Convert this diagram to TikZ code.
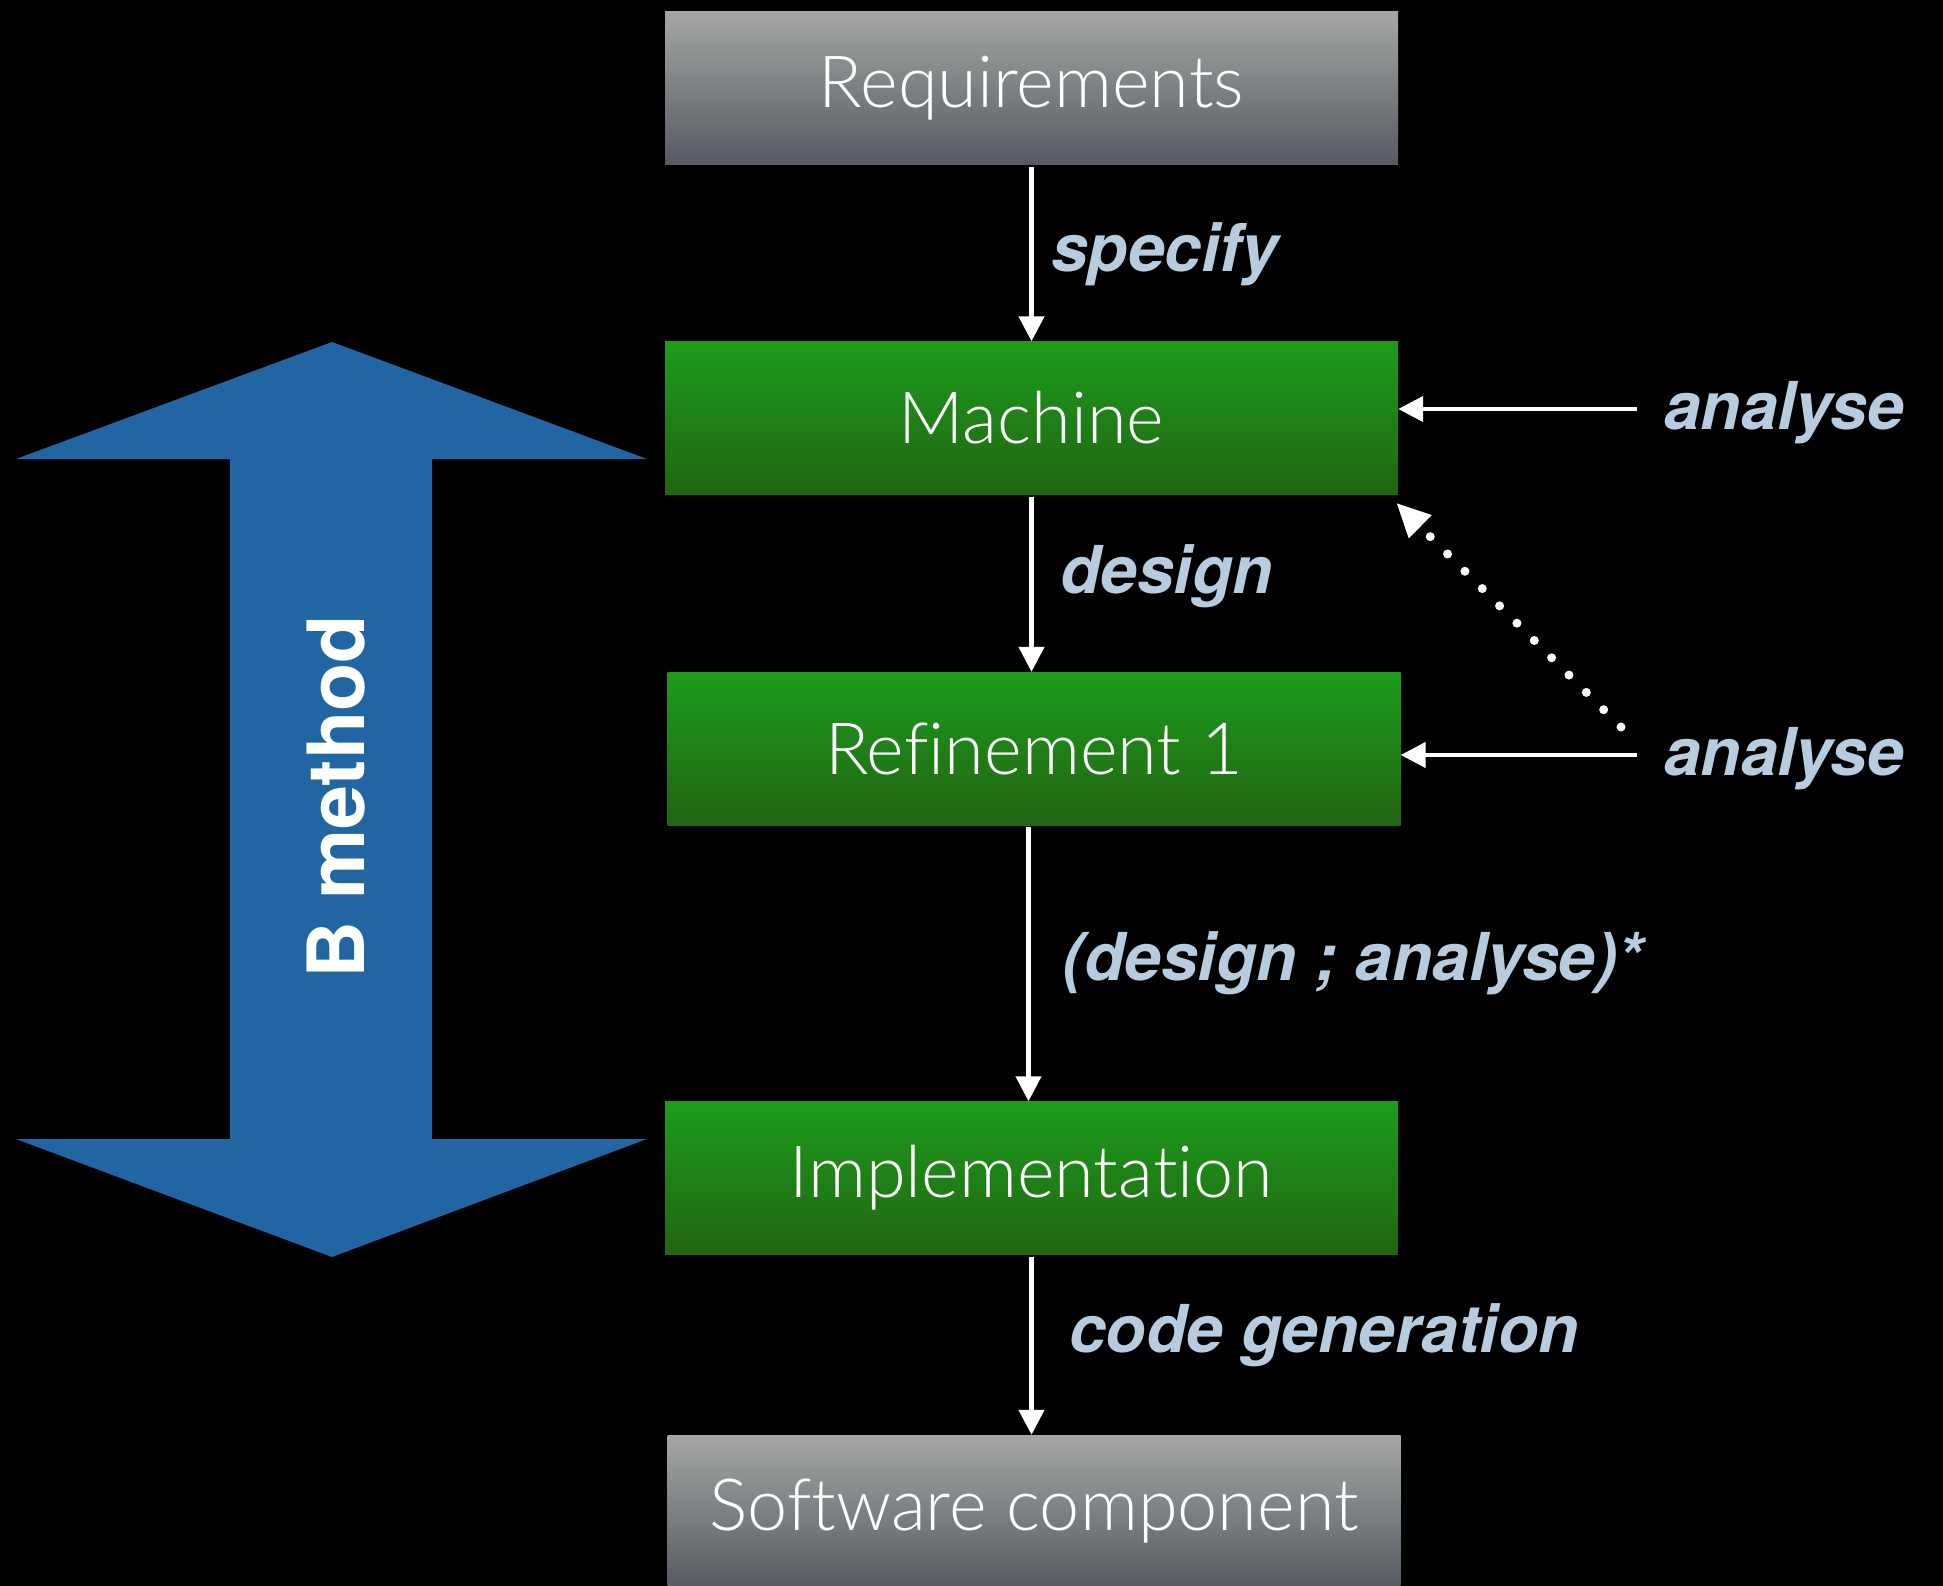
\documentclass[tikz,border=0pt]{standalone}
\usepackage{fontspec}
\setmainfont{TeX Gyre Heros}
\newfontfamily\boxfont{Lato}[UprightFont={* Light}, Ligatures=NoCommon]
\usetikzlibrary{arrows.meta,calc}

\definecolor{greytop}{RGB}{164,167,165}
\definecolor{greybot}{RGB}{86,90,97}
\definecolor{greentop}{RGB}{28,156,28}
\definecolor{greenbot}{RGB}{34,100,18}
\definecolor{bblue}{RGB}{33,101,162}
\definecolor{lbl}{RGB}{184,204,224}

\begin{document}
\begin{tikzpicture}[x=1pt,y=-1pt,
  box/.style={rectangle, inner sep=0pt, minimum width=733pt, minimum height=153pt,
    text=white, font=\boxfont\fontsize{72}{84}\selectfont},
  greybox/.style={box, top color=greytop, bottom color=greybot},
  greenbox/.style={box, top color=greentop, bottom color=greenbot},
  flow/.style={draw=white, line width=4.5pt, shorten <=2pt,
    -{Triangle[width=25pt,length=25pt]}},
  dotline/.style={draw=white, line width=9pt, line cap=round,
    dash pattern=on 0pt off 24.5pt, -{Triangle[width=30pt,length=34pt]}},
  lbltext/.style={text=lbl, inner sep=0pt,
    font=\fontsize{66}{78}\selectfont\bfseries\itshape}]

\useasboundingbox (0,0) rectangle (1943,1586);
\fill[black] (0,0) rectangle (1943,1586);
\clip (0,0) rectangle (1943,1586);

% B method double arrow
\fill[bblue] (332,342) -- (647,459) -- (432,459) -- (432,1139) -- (647,1139)
  -- (332,1257) -- (16,1139) -- (230,1139) -- (230,459) -- (16,459) -- cycle;
\node[rotate=90, text=white, inner sep=0pt,
  font=\fontsize{79}{90}\selectfont\bfseries] (bm) at (336,797) {B method};

% development stages
\node[greybox]  (req)  at (1031.5,88)    {\raisebox{-6pt}{Requirements}};
\node[greenbox] (mach) at (1031.5,418)   {\raisebox{-4pt}{Machine}};
\node[greenbox] (ref)  at (1034,748.5)   {\raisebox{-5pt}{Refinement 1}};
\node[greenbox] (impl) at (1031.5,1178)  {\raisebox{-5pt}{Implementation}};
\node[greybox]  (soft) at (1034,1511.5)  {\raisebox{-5pt}{Software component}};

% vertical steps
\draw[flow] (req.south) -- (mach.north);
\draw[flow] (mach.south) -- (ref.north -| mach.south);
\draw[flow] ([xshift=-3pt]ref.south -| impl.north) -- ([xshift=-3pt]impl.north);
\draw[flow] (impl.south) -- (soft.north -| impl.south);

\node[lbltext, anchor=base west] (lspec) at (1051,272) {specify};
\node[lbltext, anchor=base west] (ldes)  at (1060,593) {design};
\node[lbltext, anchor=base west] (liter) at (1062,980) {(design ; analyse)*};
\node[lbltext, anchor=base west] (lcode) at (1069,1352) {code generation};

% analysis arrows
\node[lbltext, anchor=base west] (an1) at (1664,429) {analyse};
\node[lbltext, anchor=base west] (an2) at (1664,775) {analyse};
\coordinate (a1) at (1637,409);
\coordinate (a2) at (1637,755);
\draw[flow, shorten <=0pt] (a1) -- (a1 -| mach.east);
\draw[flow, shorten <=0pt] (a2) -- (a2 -| ref.east);

\coordinate (d1) at (1621,727);
\coordinate (dt) at ($(mach.south east)+(-2,8)$);
\draw[dotline] (d1) -- (dt);
\end{tikzpicture}
\end{document}
